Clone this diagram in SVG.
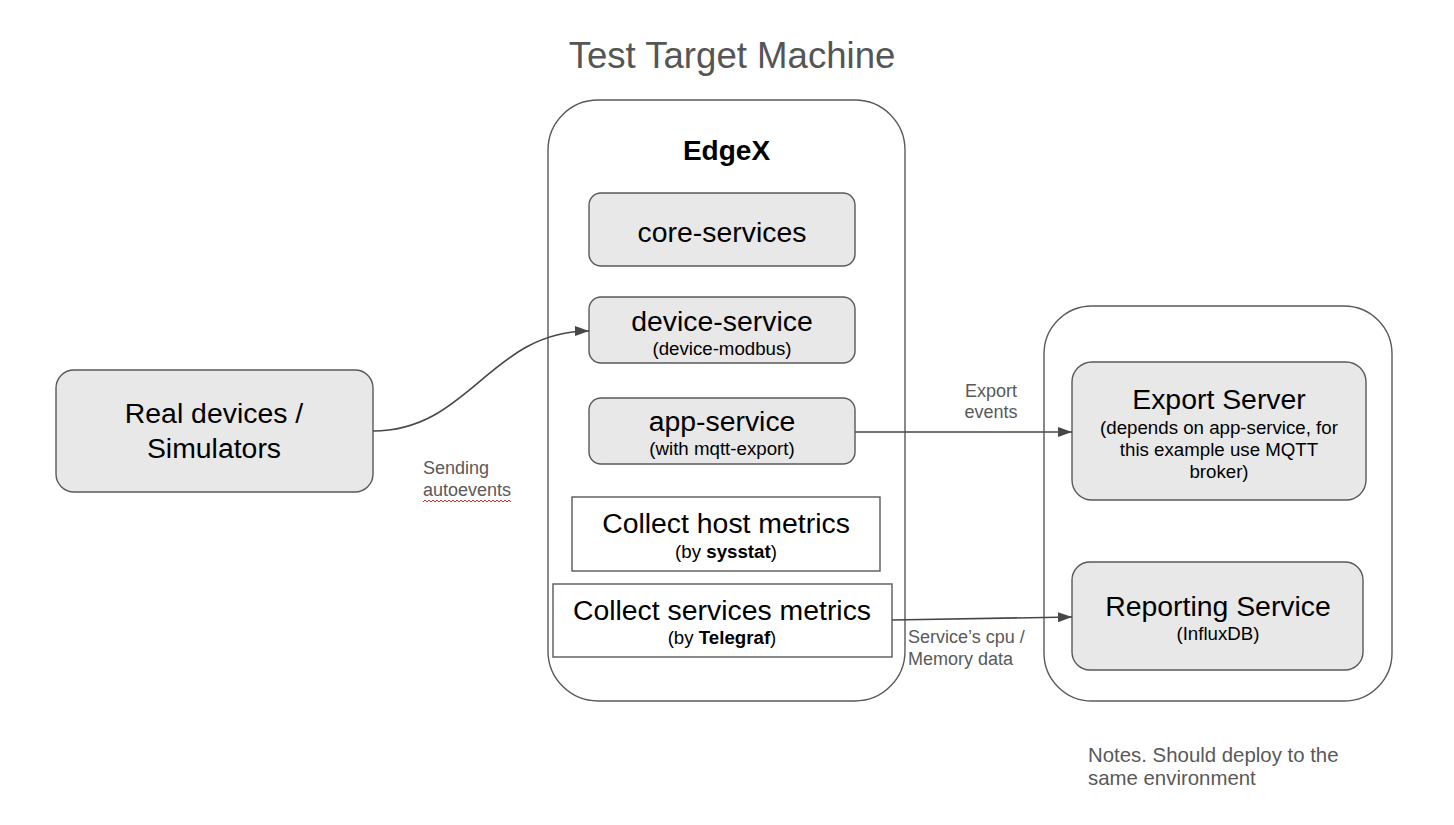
<svg xmlns="http://www.w3.org/2000/svg" width="1454" height="825" viewBox="0 0 1454 825">
<defs>
<style>
text{font-family:"Liberation Sans",Arial,sans-serif}
.title{font-size:36.6px;fill:#555}
.main{font-size:28.4px;fill:#000}
.sub{font-size:18.7px;fill:#000}
.lbl{font-size:18px;fill:#595959}
.note{font-size:20.4px;fill:#595959}
.box{fill:#e8e8e8;stroke:#595959;stroke-width:1.4}
.plain{fill:#fff;stroke:#595959;stroke-width:1.4}
.cont{fill:none;stroke:#595959;stroke-width:1.4}
.conn{fill:none;stroke:#474747;stroke-width:1.6}
</style>
<marker id="arr" viewBox="0 0 14 10" refX="14" refY="5" markerWidth="14" markerHeight="10" markerUnits="userSpaceOnUse" orient="auto">
<path d="M0,0 L14,5 L0,10 z" fill="#474747"/>
</marker>
</defs>
<rect width="1454" height="825" fill="#fff"/>
<text class="title" x="732" y="68" text-anchor="middle">Test Target Machine</text>

<g id="edgex">
<rect class="cont" x="548" y="100" width="357" height="601" rx="50"/>
<text x="726.5" y="160" text-anchor="middle" style="font-size:28px;font-weight:bold">EdgeX</text>
</g>
<g id="target">
<rect class="cont" x="1044" y="306" width="348" height="395" rx="48"/>
</g>

<g id="real-devices">
<rect class="box" x="56" y="370" width="317" height="122" rx="18"/>
<text class="main" x="214" y="423" text-anchor="middle">Real devices /</text>
<text class="main" x="214" y="458" text-anchor="middle">Simulators</text>
</g>
<g id="core-services">
<rect class="box" x="589" y="193" width="266" height="73" rx="12"/>
<text class="main" x="722" y="242" text-anchor="middle">core-services</text>
</g>
<g id="device-service">
<rect class="box" x="589" y="297" width="266" height="66" rx="12"/>
<text class="main" x="722" y="331" text-anchor="middle">device-service</text>
<text class="sub" x="722" y="355" text-anchor="middle">(device-modbus)</text>
</g>
<g id="app-service">
<rect class="box" x="589" y="398" width="266" height="66" rx="12"/>
<text class="main" x="722" y="431" text-anchor="middle">app-service</text>
<text class="sub" x="722" y="455" text-anchor="middle">(with mqtt-export)</text>
</g>
<g id="host-metrics">
<rect class="plain" x="572" y="497" width="308" height="74"/>
<text class="main" x="726" y="533" text-anchor="middle">Collect host metrics</text>
<text class="sub" x="726" y="558" text-anchor="middle">(by <tspan font-weight="bold">sysstat</tspan>)</text>
</g>
<g id="services-metrics">
<rect class="plain" x="553" y="584" width="339" height="73"/>
<text class="main" x="722" y="620" text-anchor="middle">Collect services metrics</text>
<text class="sub" x="722" y="644" text-anchor="middle">(by <tspan font-weight="bold">Telegraf</tspan>)</text>
</g>
<g id="export-server">
<rect class="box" x="1072" y="362" width="294" height="138" rx="20"/>
<text class="main" x="1219" y="409" text-anchor="middle">Export Server</text>
<text class="sub" x="1219" y="434" text-anchor="middle">(depends on app-service, for</text>
<text class="sub" x="1219" y="456" text-anchor="middle">this example use MQTT</text>
<text class="sub" x="1219" y="478" text-anchor="middle">broker)</text>
</g>
<g id="reporting-service">
<rect class="box" x="1072" y="562" width="291" height="108" rx="18"/>
<text class="main" x="1218" y="616" text-anchor="middle">Reporting Service</text>
<text class="sub" x="1218" y="640" text-anchor="middle">(InfluxDB)</text>
</g>

<g id="connectors">
<path class="conn" d="M373,431 C470,431 490,331 589,331" marker-end="url(#arr)"/>
<path class="conn" d="M855,432 L1072,432" marker-end="url(#arr)"/>
<path class="conn" d="M892,620 L1072,617" marker-end="url(#arr)"/>
<text class="lbl" x="423" y="474">Sending</text>
<text class="lbl" x="423" y="496">autoevents</text>
<path d="M423,502 l2,-2 l2,2 l2,-2 l2,2 l2,-2 l2,2 l2,-2 l2,2 l2,-2 l2,2 l2,-2 l2,2 l2,-2 l2,2 l2,-2 l2,2 l2,-2 l2,2 l2,-2 l2,2 l2,-2 l2,2 l2,-2 l2,2 l2,-2 l2,2 l2,-2 l2,2 l2,-2 l2,2 l2,-2 l2,2 l2,-2 l2,2 l2,-2 l2,2 l2,-2 l2,2 l2,-2 l2,2 l2,-2 l2,2 l2,-2 l2,2" fill="none" stroke="#d93025" stroke-width="1"/>
<text class="lbl" x="991" y="397" text-anchor="middle">Export</text>
<text class="lbl" x="991" y="418" text-anchor="middle">events</text>
<text class="lbl" x="908" y="643">Service’s cpu /</text>
<text class="lbl" x="908" y="665">Memory data</text>
</g>

<text class="note" x="1088" y="762">Notes. Should deploy to the</text>
<text class="note" x="1088" y="785">same environment</text>
</svg>
